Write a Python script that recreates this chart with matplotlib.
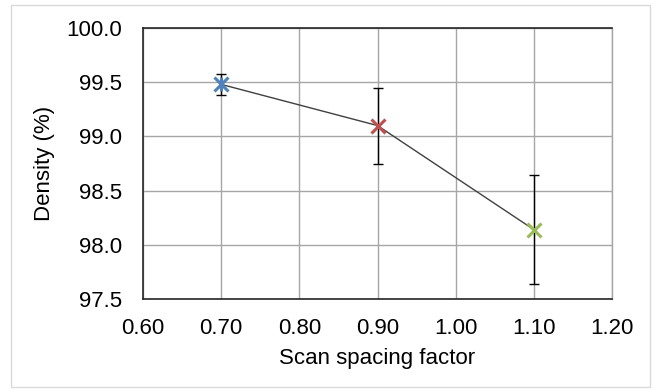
import matplotlib
matplotlib.use("Agg")
import matplotlib.pyplot as plt
from matplotlib.patches import Rectangle

plt.rcParams['font.family'] = ['Liberation Sans', 'DejaVu Sans']

# Data
spacing = [0.70, 0.90, 1.10]
density = [99.48, 99.10, 98.14]
errors = [0.10, 0.35, 0.50]
marker_colors = ['#4F81BD', '#C0504D', '#9BBB59']
x_ticks = [0.60, 0.70, 0.80, 0.90, 1.00, 1.10, 1.20]
y_ticks = [97.5, 98.0, 98.5, 99.0, 99.5, 100.0]

fig = plt.figure(figsize=(6.53, 3.92), dpi=100)
fig.patches.append(Rectangle((11/653, 5/392), 639/653, 382/392, transform=fig.transFigure,
                             fill=False, edgecolor='#D9D9D9', linewidth=1))
ax = fig.add_axes([143/653, 1 - 299/392, (612-143)/653, (299-28)/392])

ax.errorbar(spacing, density, yerr=errors, fmt='none', ecolor='black', elinewidth=1,
            capsize=3.5, capthick=1, zorder=3)
ax.plot(spacing, density, color='#404040', linewidth=1, zorder=4)
for i, (xv, yv, c) in enumerate(zip(spacing, density, marker_colors)):
    ax.plot([xv], [yv], marker='x', markersize=9.5, markeredgewidth=2.2, color=c,
            linestyle='none', zorder=5)
    if i == 0:
        ax.plot([xv], [yv], marker='|', markersize=10, markeredgewidth=2.2, color=c,
                linestyle='none', zorder=5)

ax.set_xlim(0.60, 1.20)
ax.set_ylim(97.5, 100.0)
ax.set_xticks(x_ticks)
ax.set_yticks(y_ticks)
ax.set_xticklabels([f'{v:.2f}' for v in x_ticks])
ax.set_yticklabels([f'{v:.1f}' for v in y_ticks])
ax.tick_params(axis='both', length=0, labelsize=16, colors='#000000')
ax.tick_params(axis='x', pad=14)
ax.tick_params(axis='y', pad=15)
ax.grid(True, color='#A6A6A6', linewidth=1)
ax.set_axisbelow(True)
for s in ['top', 'left', 'bottom']:
    ax.spines[s].set_color('#262626')
    ax.spines[s].set_linewidth(1.2)
ax.spines['right'].set_color('#A6A6A6')
ax.spines['right'].set_linewidth(1)

ax.set_xlabel('Scan spacing factor', fontsize=16, labelpad=6)
ax.set_ylabel('Density (%)', fontsize=16, labelpad=8)

fig.savefig('out.png', dpi=100)
